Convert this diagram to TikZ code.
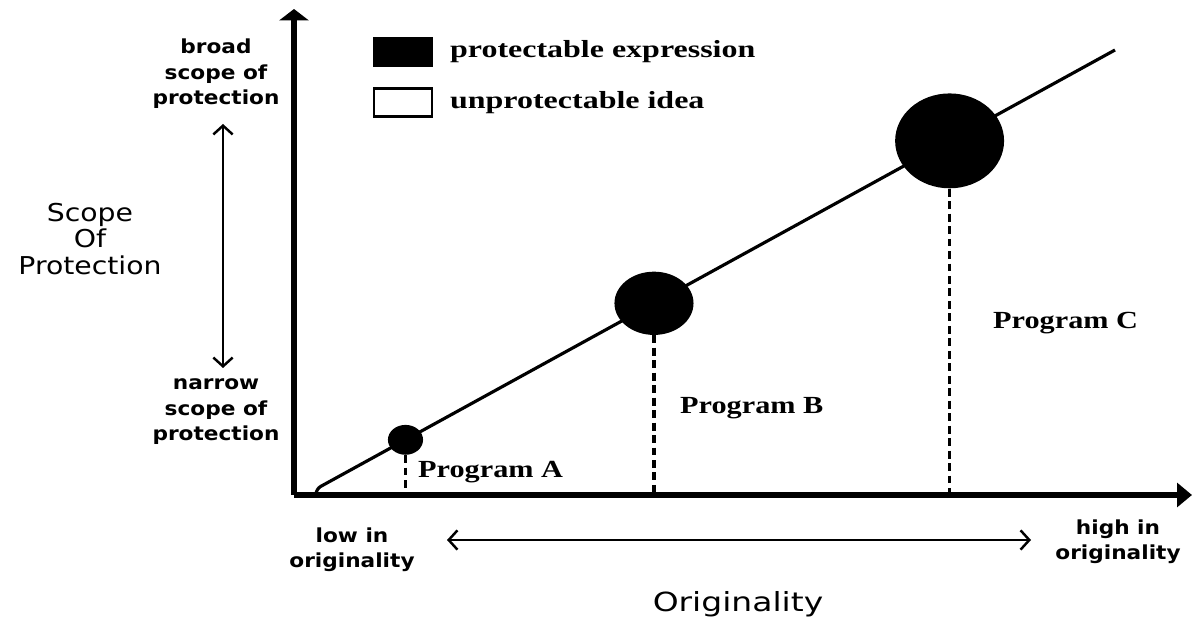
\documentclass[tikz,border=0pt]{standalone}
\usepackage{fontspec}
\setmainfont{DejaVu Sans}
\newfontfamily\slabfont{Liberation Serif}
\usetikzlibrary{positioning,arrows.meta,shapes.geometric}

\tikzset{
    axis/.style={line width=3.1pt,-{Triangle[length=6.5pt,width=16.5pt]}},
    scopearrow/.style={line width=1.2pt,{Straight Barb[length=5pt,width=11pt,line width=1.4pt]}-{Straight Barb[length=5pt,width=11pt,line width=1.4pt]}},
    blob/.style={ellipse,fill=black,inner sep=0pt},
    dropline/.style={line width=1.9pt,dash pattern=on 4.5pt off 2.6pt},
    keybox/.style={draw,line width=1.6pt,minimum width=33pt,minimum height=16pt,inner sep=0pt},
    sidelabel/.style={font=\bfseries\fontsize{11}{14.5}\selectfont\addfontfeature{FakeStretch=1.12},align=center},
    bigtitle/.style={font=\fontsize{14}{15}\selectfont\addfontfeature{FakeStretch=1.15},align=center},
    proglabel/.style={font=\slabfont\bfseries\fontsize{14}{16}\selectfont\addfontfeature{FakeStretch=1.23},anchor=west},
    keylabel/.style={font=\slabfont\bfseries\fontsize{14}{16}\selectfont\addfontfeature{FakeStretch=1.3},anchor=west},
}

\begin{document}
\begin{tikzpicture}[x=0.02cm,y=-0.02cm]
    \useasboundingbox (0,0) rectangle (1193,617);

    % axes
    \coordinate (o) at (294,495);
    \coordinate (ytop) at (294,9);
    \coordinate (xend) at (1192,495);
    \draw[axis] (o) -- (ytop);
    \draw[axis,-{Triangle[length=8.5pt,width=13.5pt]}] (o) -- (xend);

    % the line through the programs
    \coordinate (lbase) at (316,495);
    \coordinate (lfoot) at (316,489);
    \coordinate (ltop) at (1115,50);
    \draw[line width=1.8pt,rounded corners=3pt] (lbase) -- (lfoot) -- (ltop);
    \path (lfoot) -- (ltop)
        coordinate[pos=0.112] (pa)
        coordinate[pos=0.423] (pb)
        coordinate[pos=0.793] (pc);

    \node[blob,minimum width=20pt,minimum height=17pt] (progA) at (pa) {};
    \node[blob,minimum width=45pt,minimum height=36pt] (progB) at (pb) {};
    \node[blob,minimum width=62pt,minimum height=54pt] (progC) at (pc) {};

    \draw[dropline] (progA.south) -- (progA.south |- o);
    \draw[dropline] (progB.south) -- (progB.south |- o);
    \draw[dropline] (progC.south) -- (progC.south |- o);

    \node[proglabel] (labA) at (412,472) {Program A};
    \node[proglabel] (labB) at (674,408) {Program B};
    \node[proglabel] (labC) at (987,323) {Program C};

    % key
    \node[keybox,fill=black] (keyexpr) at (403,52) {};
    \node[keybox,below=11pt of keyexpr] (keyidea) {};
    \node[keylabel,right=6pt of keyexpr] (txtexpr) {protectable expression};
    \node[keylabel,right=6pt of keyidea] (txtidea) {unprotectable idea};

    % vertical scale
    \node[sidelabel] (broad) at (216,74) {broad\\scope of\\protection};
    \node[sidelabel] (narrow) at (216,412) {narrow\\scope of\\protection};
    \coordinate (sup) at (223,124);
    \coordinate (sdown) at (223,368);
    \draw[scopearrow] (sdown) -- (sup);
    \node[bigtitle] (scope) at (90,239) {Scope\\Of\\Protection};

    % horizontal scale
    \node[sidelabel] (low) at (352,550) {low in\\originality};
    \node[sidelabel] (high) at (1118,542) {high in\\originality};
    \coordinate (oleft) at (447,540);
    \coordinate (oright) at (1031,540);
    \draw[scopearrow] (oleft) -- (oright);
    \node[bigtitle,font=\fontsize{15}{16}\selectfont\addfontfeature{FakeStretch=1.25}] (orig) at (738,604) {Originality};
\end{tikzpicture}
\end{document}
